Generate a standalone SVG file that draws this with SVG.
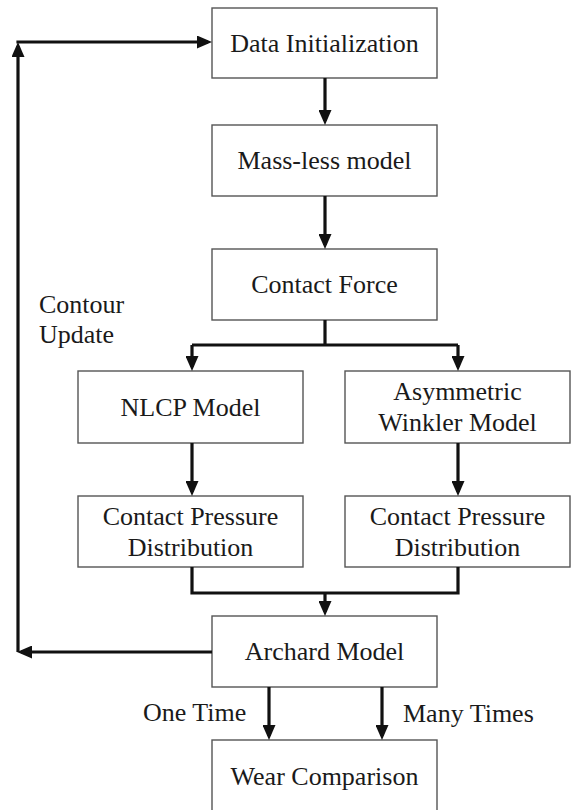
<svg xmlns="http://www.w3.org/2000/svg" width="572" height="810" viewBox="0 0 572 810">
<style>
.box{fill:#fff;stroke:#555;stroke-width:1.4}
.t{font-family:"Liberation Serif","Times New Roman",serif;font-size:26px;fill:#1a1a1a;text-anchor:middle}
.l{font-family:"Liberation Serif","Times New Roman",serif;font-size:26px;fill:#1a1a1a}
.c{fill:none;stroke:#111;stroke-width:3.2}
</style>
<defs>
<marker id="ah" markerUnits="userSpaceOnUse" markerWidth="15" markerHeight="13" refX="11" refY="6.5" orient="auto" viewBox="0 0 15 13">
<path d="M0,0 L15,6.5 L0,13 z" fill="#111"/>
</marker>
</defs>
<rect width="572" height="810" fill="#fff"/>
<g id="n1"><rect class="box" x="212" y="8" width="225" height="70"/><text class="t" x="324.5" y="52">Data Initialization</text></g>
<g id="n2"><rect class="box" x="212" y="125" width="225" height="71"/><text class="t" x="324.5" y="169">Mass-less model</text></g>
<g id="n3"><rect class="box" x="212" y="249" width="225" height="71"/><text class="t" x="324.5" y="293">Contact Force</text></g>
<g id="n4"><rect class="box" x="78" y="371" width="225" height="72"/><text class="t" x="190.5" y="416">NLCP Model</text></g>
<g id="n5"><rect class="box" x="345" y="371" width="225" height="72"/><text class="t" x="457.5" y="400">Asymmetric</text><text class="t" x="457.5" y="431">Winkler Model</text></g>
<g id="n6"><rect class="box" x="78" y="496" width="225" height="71"/><text class="t" x="190.5" y="525">Contact Pressure</text><text class="t" x="190.5" y="556">Distribution</text></g>
<g id="n7"><rect class="box" x="345" y="496" width="225" height="71"/><text class="t" x="457.5" y="525">Contact Pressure</text><text class="t" x="457.5" y="556">Distribution</text></g>
<g id="n8"><rect class="box" x="212" y="616" width="225" height="71"/><text class="t" x="324.5" y="660">Archard Model</text></g>
<g id="n9"><rect class="box" x="212" y="740" width="225" height="75"/><text class="t" x="324.5" y="785">Wear Comparison</text></g>
<g id="labels">
<text class="l" x="39" y="313">Contour</text>
<text class="l" x="39" y="343">Update</text>
<text class="l" x="143" y="721">One Time</text>
<text class="l" x="403" y="722">Many Times</text>
</g>
<g id="connectors">
<line class="c" x1="325" y1="78" x2="325" y2="121" marker-end="url(#ah)"/>
<line class="c" x1="325" y1="196" x2="325" y2="245" marker-end="url(#ah)"/>
<polyline class="c" points="325,320 325,345"/>
<polyline class="c" points="192,345 458,345"/>
<line class="c" x1="192" y1="345" x2="192" y2="367" marker-end="url(#ah)"/>
<line class="c" x1="458" y1="345" x2="458" y2="367" marker-end="url(#ah)"/>
<line class="c" x1="192" y1="443" x2="192" y2="492" marker-end="url(#ah)"/>
<line class="c" x1="458" y1="443" x2="458" y2="492" marker-end="url(#ah)"/>
<polyline class="c" points="192,567 192,593 458,593 458,567"/>
<line class="c" x1="325" y1="593" x2="325" y2="612" marker-end="url(#ah)"/>
<line class="c" x1="269" y1="687" x2="269" y2="736" marker-end="url(#ah)"/>
<line class="c" x1="382" y1="687" x2="382" y2="736" marker-end="url(#ah)"/>
<line class="c" x1="212" y1="652" x2="21" y2="652" marker-end="url(#ah)"/>
<line class="c" x1="18" y1="652" x2="18" y2="46" marker-end="url(#ah)"/>
<line class="c" x1="16.4" y1="42" x2="208" y2="42" marker-end="url(#ah)"/>
</g>
</svg>
